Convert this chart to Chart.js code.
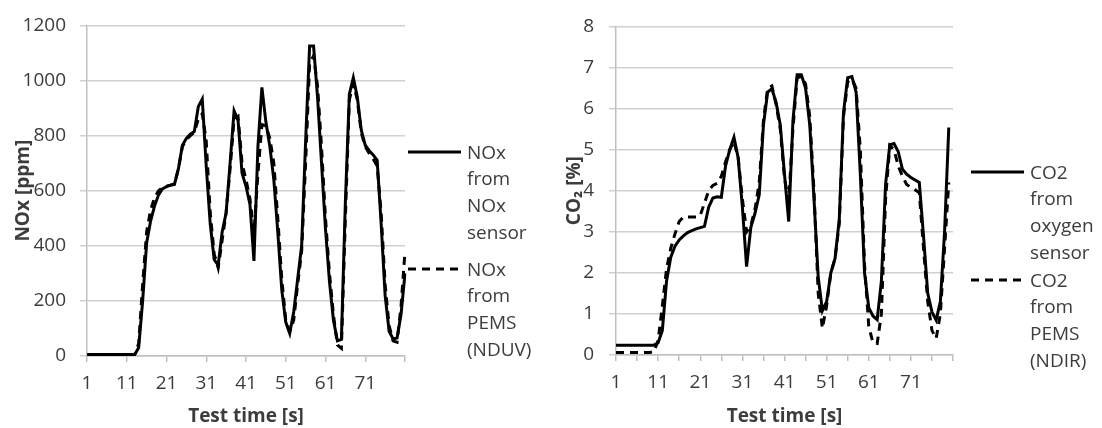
<!DOCTYPE html>
<html>
<head>
<meta charset="utf-8">
<title>NOx / CO2</title>
<script src="https://cdn.jsdelivr.net/npm/chart.js@4.4.1/dist/chart.umd.min.js"></script>
<style>
    body { margin: 0; width: 1102px; height: 428px; background: #fff; position: relative; overflow: hidden; font-family: "Open Sans", sans-serif; color: #3c3c3c; }
    .box { position: absolute; top: 0; height: 428px; }
    .leg { position: absolute; font-size: 19px; line-height: 26.7px; white-space: nowrap; }
    .leg svg { position: absolute; }
</style>
</head>
<body>
<div class="box" style="left:0; width:545px;"><canvas id="noxChart"></canvas></div>
<div class="box" style="left:551px; width:551px;"><canvas id="co2Chart"></canvas></div>
<div id="legends"></div>
<script>
// datos
const testTime = [1, 2, 3, 4, 5, 6, 7, 8, 9, 10, 11, 12, 13, 14, 15, 16, 17, 18, 19, 20,
    21, 22, 23, 24, 25, 26, 27, 28, 29, 30, 31, 32, 33, 34, 35, 36, 37, 38, 39, 40,
    41, 42, 43, 44, 45, 46, 47, 48, 49, 50, 51, 52, 53, 54, 55, 56, 57, 58, 59, 60,
    61, 62, 63, 64, 65, 66, 67, 68, 69, 70, 71, 72, 73, 74, 75, 76, 77, 78, 79, 80, 81];

const noxSensor = [5, 5, 5, 5, 5, 5, 5, 5, 5, 5, 5, 5, 5, 30, 200, 410, 490, 545, 585, 607,
    615, 620, 623, 680, 765, 790, 805, 815, 905, 933, 688, 480, 350, 330, 450, 520, 700, 890, 855, 664,
    616, 550, 345, 760, 975, 850, 760, 640, 450, 240, 123, 82, 160, 280, 400, 780, 1125, 1125, 940, 700,
    460, 270, 130, 55, 60, 560, 950, 1010, 940, 820, 765, 745, 730, 710, 480, 220, 90, 62, 65, 150, 300];

const noxPems = [5, 5, 5, 5, 5, 5, 5, 5, 5, 5, 5, 5, 5, 45, 260, 450, 530, 575, 600, 612,
    616, 620, 625, 680, 760, 785, 800, 812, 860, 880, 780, 520, 370, 320, 420, 520, 680, 860, 870, 700,
    640, 570, 450, 660, 840, 835, 790, 700, 500, 280, 130, 90, 130, 260, 380, 700, 1060, 1090, 980, 760,
    500, 300, 150, 40, 28, 500, 930, 990, 930, 810, 760, 735, 715, 690, 520, 260, 110, 55, 50, 180, 380];

const co2Oxygen = [0.24, 0.24, 0.24, 0.24, 0.24, 0.24, 0.24, 0.24, 0.24, 0.24, 0.3, 0.6, 1.8, 2.38, 2.65, 2.8, 2.9, 2.98, 3.03, 3.07,
    3.1, 3.13, 3.6, 3.82, 3.85, 3.84, 4.6, 5.0, 5.3, 4.8, 3.6, 2.15, 3.1, 3.45, 3.9, 5.6, 6.4, 6.48, 6.15, 5.6,
    4.4, 3.25, 5.7, 6.82, 6.82, 6.5, 5.6, 3.8, 1.9, 1.08, 1.3, 2.0, 2.35, 3.3, 5.9, 6.75, 6.78, 6.4, 4.4, 2.0,
    1.15, 0.95, 0.86, 1.8, 4.16, 5.12, 5.15, 4.95, 4.52, 4.4, 4.32, 4.26, 4.2, 2.9, 1.5, 1.05, 0.85, 1.3, 3.0, 5.54, null];

const co2Pems = [0.06, 0.06, 0.06, 0.06, 0.06, 0.06, 0.06, 0.06, 0.06, 0.08, 0.35, 1.2, 2.1, 2.6, 2.95, 3.25, 3.36, 3.36, 3.36, 3.36,
    3.4, 3.7, 4.0, 4.13, 4.18, 4.35, 4.7, 5.0, 5.2, 4.8, 3.8, 3.0, 3.15, 3.55, 4.2, 5.7, 6.5, 6.55, 6.1, 5.5,
    4.3, 3.75, 5.5, 6.75, 6.78, 6.6, 5.8, 4.0, 1.5, 0.65, 1.2, 2.0, 2.35, 3.2, 5.8, 6.65, 6.72, 6.5, 5.0, 2.2,
    0.7, 0.3, 0.28, 1.0, 3.8, 5.1, 5.0, 4.6, 4.35, 4.15, 4.08, 4.02, 3.95, 2.6, 1.3, 0.6, 0.4, 1.0, 2.6, 4.2, null];

const noxTicks = [0, 200, 400, 600, 800, 1000, 1200];
const co2Ticks = [0, 1, 2, 3, 4, 5, 6, 7, 8];

const noxSensorLabel = ["NOx", "from", "NOx", "sensor"];
const noxPemsLabel = ["NOx", "from", "PEMS", "(NDUV)"];
const co2OxygenLabel = ["CO2", "from", "oxygen", "sensor"];
const co2PemsLabel = ["CO2", "from", "PEMS", "(NDIR)"];

const TXT = "#3c3c3c";
const GRID = "#d0d0d0";
const AXIS = "#bfbfbf";
const DASH = [8, 6];

function opcionesEjes(cfg) {
    return {
        x: {
            type: "category",
            afterFit: s => { s.height = cfg.xHeight; },
            border: { display: true, color: AXIS, width: 1.5 },
            grid: {
                drawOnChartArea: false,
                drawTicks: true,
                tickLength: 6,
                lineWidth: 1.5,
                color: c => (c.index % cfg.tickEvery === 0 ? AXIS : "rgba(0,0,0,0)")
            },
            ticks: {
                autoSkip: false,
                maxRotation: 0,
                minRotation: 0,
                padding: 10,
                color: TXT,
                font: { family: "'Open Sans'", size: 19 },
                callback: (v, i) => (i % 10 === 0 && i < 80 ? testTime[i] : "")
            },
            title: {
                display: true,
                text: "Test time [s]",
                color: TXT,
                font: { family: "'Open Sans'", size: 19, weight: "bold" },
                padding: { top: 0, bottom: 0 }
            }
        },
        y: {
            min: cfg.ticks[0],
            max: cfg.ticks[cfg.ticks.length - 1],
            afterFit: s => { s.width = cfg.yWidth; },
            border: { display: true, color: AXIS, width: 1.5 },
            grid: { color: GRID, lineWidth: 1.5, drawTicks: true, tickLength: 7 },
            ticks: {
                stepSize: cfg.ticks[1] - cfg.ticks[0],
                padding: cfg.yPad,
                color: TXT,
                font: { family: "'Open Sans'", size: 19 },
                callback: v => String(v)
            },
            title: {
                display: true,
                text: cfg.yTitle,
                color: TXT,
                font: { family: "'Open Sans'", size: 19, weight: "bold" },
                padding: { top: 12, bottom: 0 }
            }
        }
    };
}

function serie(data, dashed) {
    return {
        data: data,
        borderColor: "#000",
        borderWidth: 3,
        borderDash: dashed ? DASH : [],
        pointRadius: 0,
        tension: 0,
        fill: false,
        spanGaps: false
    };
}

function leyenda(x, y, dashed, lines) {
    const d = document.createElement("div");
    d.className = "leg";
    d.style.left = x + "px";
    d.style.top = (y - 13.35) + "px";
    const svg = '<svg width="54" height="6" style="left:-59px; top:10.35px">' +
        '<line x1="0" y1="3" x2="53" y2="3" stroke="#000" stroke-width="3"' +
        (dashed ? ' stroke-dasharray="' + DASH.join(",") + '"' : "") + '/></svg>';
    d.innerHTML = svg + lines.join("<br>");
    document.getElementById("legends").appendChild(d);
}

// NOX WIDGET
(() => {
    const canvas = document.getElementById("noxChart");
    if (!canvas) { console.error("noxChart no encontrado"); return; }

    new Chart(canvas.getContext("2d"), {
        type: "line",
        data: {
            labels: testTime,
            datasets: [serie(noxSensor, false), serie(noxPems, true)]
        },
        options: {
            responsive: true,
            maintainAspectRatio: false,
            animation: false,
            devicePixelRatio: 1,
            layout: { padding: { top: 23, right: 140, left: 0, bottom: 0 } },
            plugins: { legend: { display: false }, tooltip: { enabled: false } },
            scales: opcionesEjes({ ticks: noxTicks, yTitle: "NOx [ppm]", xHeight: 72, yWidth: 87, yPad: 14, tickEvery: 10 })
        }
    });

    leyenda(467, 152, false, noxSensorLabel);
    leyenda(467, 269, true, noxPemsLabel);
})();

// CO2 WIDGET
(() => {
    const canvas = document.getElementById("co2Chart");
    if (!canvas) { console.error("co2Chart no encontrado"); return; }

    new Chart(canvas.getContext("2d"), {
        type: "line",
        data: {
            labels: testTime,
            datasets: [serie(co2Oxygen, false), serie(co2Pems, true)]
        },
        options: {
            responsive: true,
            maintainAspectRatio: false,
            animation: false,
            devicePixelRatio: 1,
            layout: { padding: { top: 22, right: 149, left: 0, bottom: 0 } },
            plugins: { legend: { display: false }, tooltip: { enabled: false } },
            scales: opcionesEjes({ ticks: co2Ticks, yTitle: "CO\u2082 [%]", xHeight: 73, yWidth: 65, yPad: 15, tickEvery: 5 })
        }
    });

    leyenda(1030, 172, false, co2OxygenLabel);
    leyenda(1030, 280, true, co2PemsLabel);
})();
</script>
</body>
</html>
